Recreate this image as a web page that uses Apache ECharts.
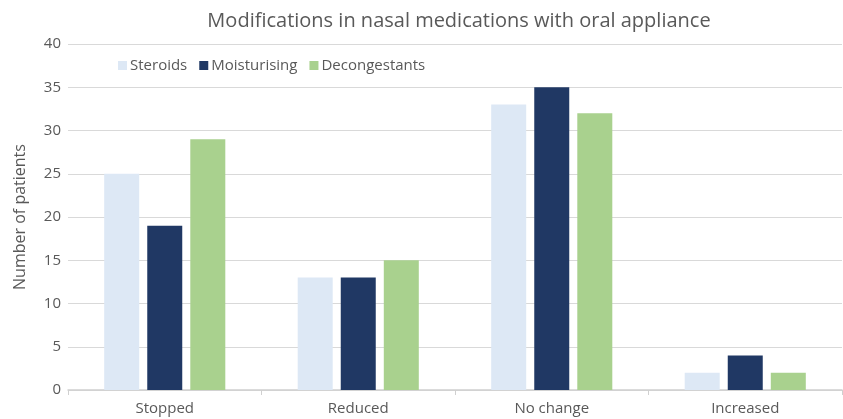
<!DOCTYPE html>
<html>
<head>
<meta charset="utf-8">
<script src="https://cdn.jsdelivr.net/npm/echarts@6/dist/echarts.min.js"></script>
<style>
  html, body { margin: 0; padding: 0; background: #fff; }
  #main { width: 843px; height: 419px; }
</style>
</head>
<body>
<div id="main"></div>
<script>
var categories = ["Stopped", "Reduced", "No change", "Increased"]
var steroids = [25, 13, 33, 2]
var moisturising = [19, 13, 35, 4]
var decongestants = [29, 15, 32, 2]

var font = "'Open Sans', 'Liberation Sans', sans-serif"
var textColor = "#595959"

var myChart = echarts.init(document.getElementById("main"))
var option = {
  animation: false,
  textStyle: { fontFamily: font },
  title: {
    text: "Modifications in nasal medications with oral appliance",
    left: 454,
    textAlign: "center",
    top: 6,
    textStyle: { fontFamily: font, fontSize: 20, fontWeight: "normal", color: textColor }
  },
  legend: {
    data: ["Steroids", "Moisturising", "Decongestants"],
    left: 113,
    top: 53,
    itemWidth: 9,
    itemHeight: 9,
    itemGap: 12,
    icon: "rect",
    textStyle: { fontFamily: font, fontSize: 15, color: textColor, padding: [0, 0, 0, -2] }
  },
  grid: { left: 68, right: 1, top: 44, bottom: 29 },
  xAxis: {
    type: "category",
    data: categories,
    axisLine: { lineStyle: { color: "#d0d0d0", width: 1.5 } },
    axisTick: { show: true, length: 5, lineStyle: { color: "#d0d0d0" } },
    axisLabel: { fontFamily: font, fontSize: 15, color: textColor, margin: 11 }
  },
  yAxis: {
    type: "value",
    min: 0,
    max: 40,
    interval: 5,
    name: "Number of patients",
    nameLocation: "middle",
    nameGap: 40,
    nameTextStyle: { fontFamily: font, fontSize: 16, color: textColor },
    axisLine: { show: false },
    axisTick: { show: false },
    axisLabel: { fontFamily: font, fontSize: 15, color: textColor, margin: 7 },
    splitLine: { lineStyle: { color: "#d9d9d9", width: 1 } }
  },
  series: [
    { name: "Steroids", type: "bar", data: steroids, barWidth: 35, barGap: "23%",
      itemStyle: { color: "#dde8f5" } },
    { name: "Moisturising", type: "bar", data: moisturising, barWidth: 35, barGap: "23%",
      itemStyle: { color: "#203864" } },
    { name: "Decongestants", type: "bar", data: decongestants, barWidth: 35, barGap: "23%",
      itemStyle: { color: "#a9d18e" } }
  ]
}
myChart.setOption(option)
</script>
</body>
</html>
